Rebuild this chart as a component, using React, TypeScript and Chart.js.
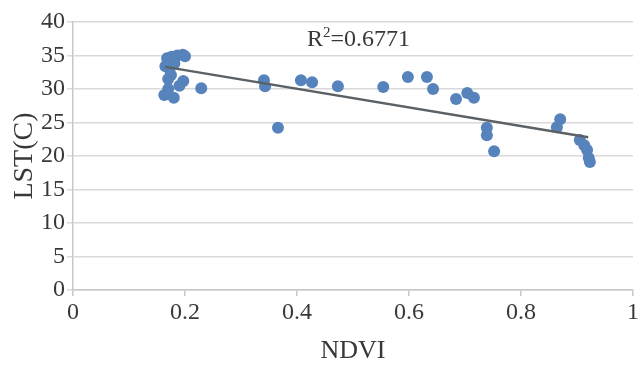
import React, { useEffect, useRef } from "react";
import { Chart, registerables } from "chart.js";

Chart.register(...registerables);

const ndvi = [
  0.168, 0.176, 0.186, 0.196, 0.2, 0.165, 0.172, 0.181, 0.175, 0.17, 0.163, 0.17, 0.18, 0.19, 0.197, 0.229,
  0.341, 0.343, 0.366, 0.407, 0.427, 0.473,
  0.554, 0.598, 0.632, 0.643, 0.684, 0.704, 0.716,
  0.739, 0.739, 0.752,
  0.87, 0.864, 0.905, 0.913, 0.918, 0.921, 0.923,
];
const lst = [
  34.6, 34.8, 35.0, 35.1, 34.9, 33.4, 33.0, 33.8, 32.1, 31.5, 29.1, 30.0, 28.7, 30.5, 31.2, 30.1,
  31.3, 30.4, 24.2, 31.3, 31.0, 30.4,
  30.3, 31.8, 31.8, 30.0, 28.5, 29.4, 28.7,
  24.2, 23.1, 20.7,
  25.5, 24.3, 22.4, 21.6, 20.9, 19.7, 19.1,
];
const trendX = [0.165, 0.92];
const trendY = [33.3, 22.8];
const rSquaredLabel = "0.6771";
const xTicks = [0, 0.2, 0.4, 0.6, 0.8, 1];
const yTicks = [0, 5, 10, 15, 20, 25, 30, 35, 40];

const SERIF = "'Liberation Serif', 'Times New Roman', serif";
const TEXT = "#383838";

const r2Plugin = {
  id: "r2label",
  afterDraw(chart: any) {
    const ctx = chart.ctx;
    const xs = chart.scales.x;
    const ys = chart.scales.y;
    const cx = xs.getPixelForValue(0.51);
    const cy = ys.getPixelForValue(37.3);
    ctx.save();
    ctx.fillStyle = TEXT;
    ctx.textBaseline = "middle";
    const big = `24px ${SERIF}`;
    const small = `15px ${SERIF}`;
    ctx.font = big;
    const wR = ctx.measureText("R").width;
    const rest = "=" + rSquaredLabel;
    const wRest = ctx.measureText(rest).width;
    ctx.font = small;
    const w2 = ctx.measureText("2").width;
    const total = wR + w2 + wRest;
    let x = cx - total / 2;
    ctx.font = big;
    ctx.textAlign = "left";
    ctx.fillText("R", x, cy);
    x += wR;
    ctx.font = small;
    ctx.fillText("2", x, cy - 7);
    x += w2;
    ctx.font = big;
    ctx.fillText(rest, x, cy);
    ctx.restore();
  },
};

export default function App() {
  const ref = useRef<HTMLCanvasElement>(null);
  useEffect(() => {
    document.body.style.margin = "0";
    const chart = new Chart(ref.current!, {
      type: "scatter",
      data: {
        datasets: [
          {
            label: "LST",
            data: ndvi.map((x, i) => ({ x, y: lst[i] })),
            backgroundColor: "#5683bb",
            borderColor: "#5683bb",
            pointRadius: 6,
            pointBorderWidth: 0,
            order: 2,
          },
          {
            label: "trend",
            type: "line",
            data: trendX.map((x, i) => ({ x, y: trendY[i] })),
            borderColor: "#5b6165",
            borderWidth: 2.5,
            pointRadius: 0,
            fill: false,
            order: 1,
          } as any,
        ],
      },
      options: {
        animation: false,
        responsive: false,
        layout: { padding: { top: 22, right: 9, left: 0, bottom: 0 } },
        plugins: { legend: { display: false }, tooltip: { enabled: false } },
        scales: {
          x: {
            type: "linear",
            min: 0,
            max: 1,
            afterBuildTicks: (s: any) => {
              s.ticks = xTicks.map((v) => ({ value: v }));
            },
            afterFit: (s: any) => {
              s.height = 77;
            },
            ticks: {
              color: TEXT,
              font: { family: SERIF, size: 24 },
              padding: 2,
              callback: (v: any) => String(v),
            },
            grid: { drawOnChartArea: false, drawTicks: true, tickLength: 6, color: "#c8c8c8", lineWidth: 1.5 },
            border: { color: "#c8c8c8", width: 1.5 },
            title: {
              display: true,
              text: "NDVI",
              color: TEXT,
              font: { family: SERIF, size: 26 },
              padding: { top: 8, bottom: 0 },
            },
          },
          y: {
            type: "linear",
            min: 0,
            max: 40,
            afterBuildTicks: (s: any) => {
              s.ticks = yTicks.map((v) => ({ value: v }));
            },
            afterFit: (s: any) => {
              s.width = 73;
            },
            ticks: {
              color: TEXT,
              font: { family: SERIF, size: 24 },
              padding: 2,
            },
            grid: { color: "#d9d9d9", lineWidth: 1.5, tickLength: 6 },
            border: { color: "#c8c8c8", width: 1.5 },
            title: {
              display: true,
              text: "LST(C)",
              color: TEXT,
              font: { family: SERIF, size: 28 },
              padding: { top: 8, bottom: 0 },
            },
          },
        },
      },
      plugins: [r2Plugin],
    });
    return () => chart.destroy();
  }, []);
  return <canvas ref={ref} width={642} height={367} style={{ display: "block" }} />;
}
